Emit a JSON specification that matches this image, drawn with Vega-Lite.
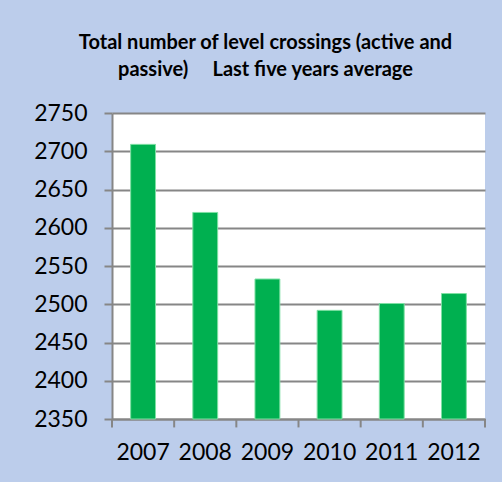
{
  "$schema": "https://vega.github.io/schema/vega-lite/v6.json",
  "width": 373,
  "height": 306,
  "autosize": {"type": "none"},
  "padding": {"left": 112, "top": 113, "right": 17, "bottom": 63},
  "background": "#BCCDEB",
  "data": {"values": [
    {"year": "2007", "count": 2709},
    {"year": "2008", "count": 2620},
    {"year": "2009", "count": 2533},
    {"year": "2010", "count": 2492},
    {"year": "2011", "count": 2501},
    {"year": "2012", "count": 2514}
  ]},
  "title": {
    "text": ["Total number of level crossings (active and", "passive)\u00a0\u00a0\u00a0\u00a0 Last five years average"],
    "font": "Lato",
    "fontSize": 20,
    "fontWeight": "bold",
    "color": "#000000",
    "lineHeight": 27,
    "anchor": "middle",
    "dx": -33,
    "offset": 22
  },
  "encoding": {
    "x": {
      "field": "year",
      "type": "ordinal",
      "title": null,
      "scale": {"paddingInner": 0.6, "paddingOuter": 0.3},
      "axis": {
        "labelAngle": 0,
        "ticks": false,
        "domainColor": "#868686",
        "domainWidth": 2,
        "labelFont": "Lato",
        "labelFontSize": 23,
        "labelColor": "#000000",
        "labelPadding": 22
      }
    }
  },
  "layer": [
    {
      "mark": {"type": "bar", "fill": "#00B050", "stroke": "#7FE0A4", "strokeWidth": 1},
      "encoding": {
        "y": {
          "field": "count",
          "type": "quantitative",
          "title": null,
          "scale": {"domain": [2350, 2750], "zero": false, "nice": false},
          "axis": {
            "values": [2350, 2400, 2450, 2500, 2550, 2600, 2650, 2700, 2750],
            "format": "d",
            "labelOverlap": false,
            "tickSize": 8,
            "tickColor": "#868686",
            "tickWidth": 2,
            "domainColor": "#868686",
            "domainWidth": 2,
            "gridColor": "#868686",
            "gridWidth": 2,
            "labelFont": "Lato",
            "labelFontSize": 23,
            "labelColor": "#000000",
            "labelPadding": 17
          }
        },
        "y2": {"datum": 2350}
      }
    },
    {
      "mark": {"type": "rule", "color": "#868686", "strokeWidth": 2},
      "encoding": {
        "x": {"field": "year", "type": "ordinal", "bandPosition": -0.75},
        "y": {
          "datum": 2350,
          "type": "quantitative",
          "title": null,
          "scale": {"domain": [2350, 2750], "zero": false, "nice": false},
          "axis": {
            "values": [2350, 2400, 2450, 2500, 2550, 2600, 2650, 2700, 2750],
            "format": "d",
            "labelOverlap": false,
            "tickSize": 8,
            "tickColor": "#868686",
            "tickWidth": 2,
            "domainColor": "#868686",
            "domainWidth": 2,
            "gridColor": "#868686",
            "gridWidth": 2,
            "labelFont": "Lato",
            "labelFontSize": 23,
            "labelColor": "#000000",
            "labelPadding": 17
          }
        },
        "y2": {"datum": 2339}
      }
    },
    {
      "transform": [{"filter": "datum.year == '2012'"}],
      "mark": {"type": "rule", "color": "#868686", "strokeWidth": 2},
      "encoding": {
        "x": {"field": "year", "type": "ordinal", "bandPosition": 1.75},
        "y": {
          "datum": 2350,
          "type": "quantitative",
          "title": null,
          "scale": {"domain": [2350, 2750], "zero": false, "nice": false},
          "axis": {
            "values": [2350, 2400, 2450, 2500, 2550, 2600, 2650, 2700, 2750],
            "format": "d",
            "labelOverlap": false,
            "tickSize": 8,
            "tickColor": "#868686",
            "tickWidth": 2,
            "domainColor": "#868686",
            "domainWidth": 2,
            "gridColor": "#868686",
            "gridWidth": 2,
            "labelFont": "Lato",
            "labelFontSize": 23,
            "labelColor": "#000000",
            "labelPadding": 17
          }
        },
        "y2": {"datum": 2339}
      }
    }
  ],
  "config": {
    "view": {"fill": "#FFFFFF", "stroke": null}
  }
}
